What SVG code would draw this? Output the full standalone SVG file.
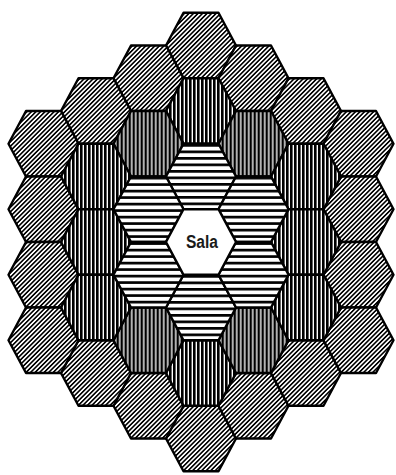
<svg xmlns="http://www.w3.org/2000/svg" width="396" height="475" viewBox="0 0 396 475">
<style>
.hex{stroke:#000;stroke-width:2.4;stroke-linejoin:round}
.r3{fill:url(#diag)}
.r2{fill:url(#vert)}
.r1{fill:url(#horiz)}
.c0{fill:#fff}
.lbl{font-family:"Liberation Sans Narrow","Liberation Sans",Arial,sans-serif;font-size:18px;font-weight:bold;fill:#1a1a1a;text-anchor:middle}
</style>
<defs>
<polygon id="hx" points="-35,0 -17.5,-32.75 17.5,-32.75 35,0 17.5,32.75 -17.5,32.75"/>
<pattern id="diag" patternUnits="userSpaceOnUse" width="3.2" height="3.2" patternTransform="rotate(45)">
<rect width="3.2" height="3.2" fill="#fff"/>
<rect width="1.6" height="3.2" fill="#000"/>
</pattern>
<pattern id="vert" patternUnits="userSpaceOnUse" width="4" height="4">
<rect width="4" height="4" fill="#fff"/>
<rect width="2.6" height="4" fill="#000"/>
</pattern>
<pattern id="horiz" patternUnits="userSpaceOnUse" width="6.5" height="6.5">
<rect width="6.5" height="6.5" fill="#fff"/>
<rect width="6.5" height="2.7" fill="#000"/>
</pattern>
</defs>

<!-- ring 3 (outer, diagonal hatching) -->
<g id="hex-r3-q0-top"><use href="#hx" class="hex r3" x="201" y="45.5"/></g>
<g id="hex-r3-q0-bottom"><use href="#hx" class="hex r3" x="201" y="438.5"/></g>
<g id="hex-r3-qm1-top"><use href="#hx" class="hex r3" x="148.5" y="78.25"/></g>
<g id="hex-r3-qm1-bottom"><use href="#hx" class="hex r3" x="148.5" y="405.75"/></g>
<g id="hex-r3-qp1-top"><use href="#hx" class="hex r3" x="253.5" y="78.25"/></g>
<g id="hex-r3-qp1-bottom"><use href="#hx" class="hex r3" x="253.5" y="405.75"/></g>
<g id="hex-r3-qm2-top"><use href="#hx" class="hex r3" x="96" y="111"/></g>
<g id="hex-r3-qm2-bottom"><use href="#hx" class="hex r3" x="96" y="373"/></g>
<g id="hex-r3-qp2-top"><use href="#hx" class="hex r3" x="306" y="111"/></g>
<g id="hex-r3-qp2-bottom"><use href="#hx" class="hex r3" x="306" y="373"/></g>
<g id="hex-r3-qm3-1"><use href="#hx" class="hex r3" x="43.5" y="143.75"/></g>
<g id="hex-r3-qm3-2"><use href="#hx" class="hex r3" x="43.5" y="209.25"/></g>
<g id="hex-r3-qm3-3"><use href="#hx" class="hex r3" x="43.5" y="274.75"/></g>
<g id="hex-r3-qm3-4"><use href="#hx" class="hex r3" x="43.5" y="340.25"/></g>
<g id="hex-r3-qp3-1"><use href="#hx" class="hex r3" x="358.5" y="143.75"/></g>
<g id="hex-r3-qp3-2"><use href="#hx" class="hex r3" x="358.5" y="209.25"/></g>
<g id="hex-r3-qp3-3"><use href="#hx" class="hex r3" x="358.5" y="274.75"/></g>
<g id="hex-r3-qp3-4"><use href="#hx" class="hex r3" x="358.5" y="340.25"/></g>

<!-- ring 2 (vertical hatching) -->
<g id="hex-r2-q0-top"><use href="#hx" class="hex r2" x="201" y="111"/></g>
<g id="hex-r2-q0-bottom"><use href="#hx" class="hex r2" x="201" y="373"/></g>
<g id="hex-r2-qm1-top"><use href="#hx" class="hex r2" x="148.5" y="143.75"/></g>
<g id="hex-r2-qm1-bottom"><use href="#hx" class="hex r2" x="148.5" y="340.25"/></g>
<g id="hex-r2-qp1-top"><use href="#hx" class="hex r2" x="253.5" y="143.75"/></g>
<g id="hex-r2-qp1-bottom"><use href="#hx" class="hex r2" x="253.5" y="340.25"/></g>
<g id="hex-r2-qm2-1"><use href="#hx" class="hex r2" x="96" y="176.5"/></g>
<g id="hex-r2-qm2-2"><use href="#hx" class="hex r2" x="96" y="242"/></g>
<g id="hex-r2-qm2-3"><use href="#hx" class="hex r2" x="96" y="307.5"/></g>
<g id="hex-r2-qp2-1"><use href="#hx" class="hex r2" x="306" y="176.5"/></g>
<g id="hex-r2-qp2-2"><use href="#hx" class="hex r2" x="306" y="242"/></g>
<g id="hex-r2-qp2-3"><use href="#hx" class="hex r2" x="306" y="307.5"/></g>

<!-- ring 1 (horizontal hatching) -->
<g id="hex-r1-top"><use href="#hx" class="hex r1" x="201" y="176.5"/></g>
<g id="hex-r1-bottom"><use href="#hx" class="hex r1" x="201" y="307.5"/></g>
<g id="hex-r1-upper-left"><use href="#hx" class="hex r1" x="148.5" y="209.25"/></g>
<g id="hex-r1-lower-left"><use href="#hx" class="hex r1" x="148.5" y="274.75"/></g>
<g id="hex-r1-upper-right"><use href="#hx" class="hex r1" x="253.5" y="209.25"/></g>
<g id="hex-r1-lower-right"><use href="#hx" class="hex r1" x="253.5" y="274.75"/></g>

<!-- center -->
<g id="hex-sala">
<use href="#hx" class="hex c0" x="201" y="242"/>
<text class="lbl" x="202" y="248" textLength="32" lengthAdjust="spacingAndGlyphs">Sala</text>
</g>
</svg>
